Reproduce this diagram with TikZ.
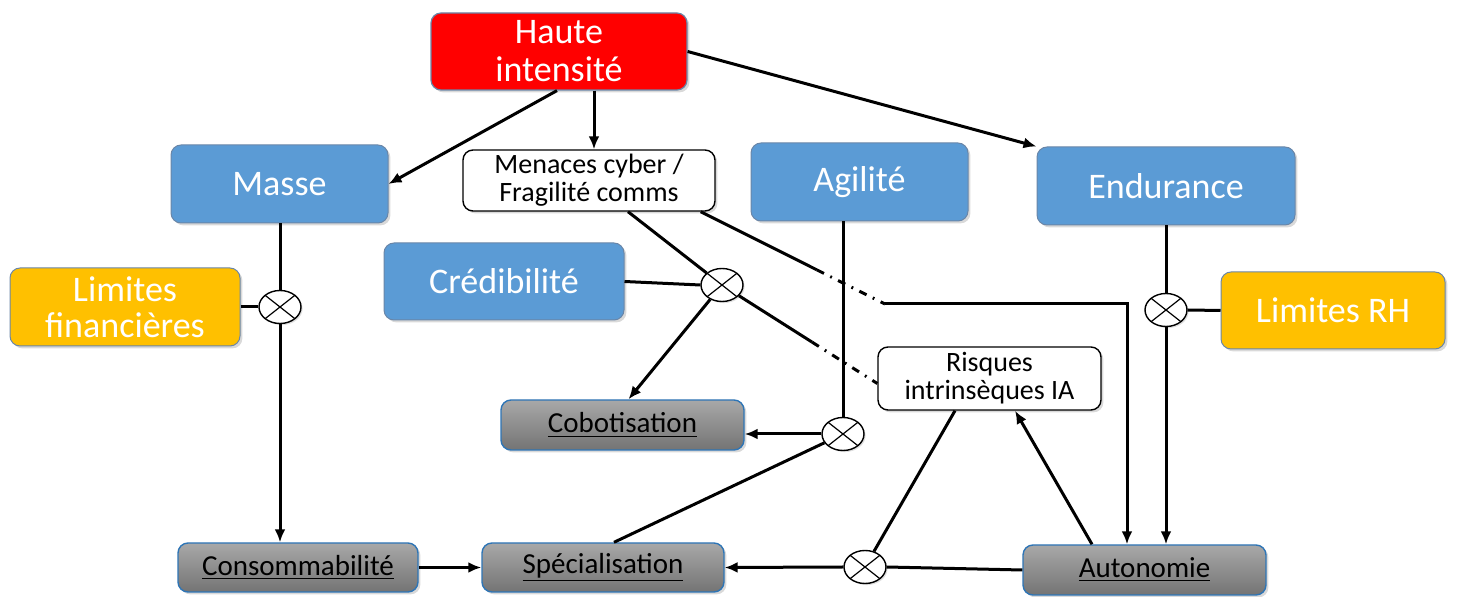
\documentclass[tikz,border=0pt]{standalone}
\usepackage{fontspec}
\setmainfont{Carlito}
\usetikzlibrary{shadows,arrows.meta,calc,shapes.geometric}
\definecolor{hired}{HTML}{FF0000}
\definecolor{boxblue}{HTML}{5B9BD5}
\definecolor{boxyellow}{HTML}{FFC000}
\definecolor{edgeblue}{HTML}{2E75B6}
\definecolor{softborder}{HTML}{6A86A8}
\definecolor{graytop}{HTML}{A8A8A8}
\definecolor{graybot}{HTML}{747474}
\tikzset{
  base/.style={rounded corners=5pt, align=center, inner sep=0pt,
    drop shadow={shadow xshift=1.2pt, shadow yshift=-1.2pt, opacity=0.3}},
  redbox/.style={base, fill=hired, draw=softborder, line width=0.6pt, text=white,
    font=\fontsize{18}{19}\selectfont},
  bluebox/.style={base, fill=boxblue, draw=softborder, line width=0.5pt, text=white,
    font=\fontsize{18}{19}\selectfont},
  yellowbox/.style={base, fill=boxyellow, draw=softborder, line width=0.5pt, text=white,
    font=\fontsize{18}{18}\selectfont},
  whitebox/.style={base, fill=white, draw=black, line width=0.7pt, text=black,
    font=\fontsize{14}{14}\selectfont},
  graybox/.style={base, top color=graytop, bottom color=graybot, draw=edgeblue,
    line width=0.7pt, text=black, font=\fontsize{14.5}{15}\selectfont},
  otimesnode/.style={ellipse, minimum width=21pt, minimum height=16.5pt, inner sep=0pt,
    draw=black, line width=0.7pt, fill=white,
    drop shadow={shadow xshift=0.8pt, shadow yshift=-0.8pt, opacity=0.25},
    path picture={\draw[line width=0.6pt] (path picture bounding box.north west) -- (path picture bounding box.south east)
      (path picture bounding box.north east) -- (path picture bounding box.south west);}},
  conn/.style={line width=1.5pt, draw=black},
  arr/.style={conn, -{Latex[length=6.5pt,width=5.5pt]}},
  dashdot/.style={conn, dash pattern=on 4pt off 3.5pt on 0.9pt off 3.5pt},
}
\begin{document}
\begin{tikzpicture}[x=0.5pt,y=-0.5pt]
\useasboundingbox (0,0) rectangle (1457,597);

% nodes
\node[redbox, minimum width=128pt, minimum height=38.5pt] (hi) at (559,51.5) {Haute\\intensité};
\node[bluebox, minimum width=108.5pt, minimum height=39pt] (masse) at (279.5,184) {Masse};
\node[whitebox, minimum width=126pt, minimum height=30.5pt] (menaces) at (589,180.5) {Menaces cyber /\\Fragilité comms};
\node[bluebox, minimum width=108.5pt, minimum height=39pt] (agil) at (859.5,182) {Agilité};
\node[bluebox, minimum width=129pt, minimum height=39pt] (endu) at (1166,186) {Endurance};
\node[bluebox, minimum width=120pt, minimum height=38.5pt] (cred) at (504,281.5) {Crédibilité};
\node[yellowbox, minimum width=115pt, minimum height=39pt] (limfin) at (125,307) {Limites\\financières};
\node[yellowbox, minimum width=112pt, minimum height=38.5pt] (limrh) at (1333,310.5) {Limites RH};
\node[whitebox, minimum width=111.5pt, minimum height=31.5pt] (risk) at (989.5,378.5) {Risques\\intrinsèques IA};
\node[graybox, minimum width=121.5pt, minimum height=25pt] (cobot) at (622.5,425) {\underline{Cobotisation}};
\node[graybox, minimum width=120pt, minimum height=24.5pt] (conso) at (298,567.5) {\underline{Consommabilité}};
\node[graybox, minimum width=121pt, minimum height=24.5pt] (spec) at (603,567.5) {\underline{Spécialisation}};
\node[graybox, minimum width=121.5pt, minimum height=25pt] (auto) at (1144.5,570) {\underline{Autonomie}};

% combination circles
\node[otimesnode] (c1) at (280,307) {};
\node[otimesnode] (c2) at (722,285) {};
\node[otimesnode] (c3) at (843,434) {};
\node[otimesnode] (c4) at (865,567) {};
\node[otimesnode] (c5) at (1166,310) {};

% helper coordinates
\coordinate (k1) at (885,304);
\coordinate (k2) at (1127,304);
\coordinate (mstart) at ([xshift=-7.5pt]menaces.south east);

% connectors from Haute intensite
\draw[arr] ([xshift=-1pt]hi.south) -- (masse.east);
\draw[arr] ([xshift=17.5pt]hi.south) -- ([xshift=17.5pt]hi.south |- menaces.north);
\draw[arr] (hi.east) -- (endu.north west);

% Masse chain
\draw[conn] (masse.south -| c1) -- (c1.north);
\draw[conn] (limfin.east) -- (c1.west);
\draw[arr] (c1.south) -- (c1.south |- conso.north);
\draw[arr] (conso.east) -- (spec.west);

% Menaces / Credibilite
\draw[conn] ([xshift=19.5pt]menaces.south) -- (c2);
\draw[conn] (cred.east) -- (c2.west);
\draw[arr] (c2) -- ([xshift=3pt]cobot.north);
\coordinate (riskin) at ([yshift=-2.5pt]risk.west);
\draw[conn] (c2) -- ($(c2)!0.58!(riskin)$);
\draw[dashdot] ($(c2)!0.58!(riskin)$) -- (riskin);

% Menaces -> Autonomie
\draw[conn] (mstart) -- ($(mstart)!0.63!(k1)$);
\draw[dashdot] ($(mstart)!0.63!(k1)$) -- (k1);
\draw[arr] (k1) -- (k2) -- (k2 |- auto.north);

% Agilite
\draw[conn] ([xshift=-8.25pt]agil.south) -- (c3.north);
\draw[arr] (c3.west) -- (c3.west -| cobot.east);
\draw[conn] (c3) -- ([xshift=5.5pt]spec.north);

% Risques / Autonomie
\draw[conn] ([xshift=-17.25pt]risk.south) -- (c4);
\draw[arr] ([xshift=-26.25pt]auto.north) -- ([xshift=12.75pt]risk.south);
\draw[conn] (auto.west) -- (c4.east);
\draw[arr] (c4.west) -- (spec.east);

% Endurance
\draw[conn] (endu.south) -- (c5.north);
\draw[conn] (limrh.west) -- (c5.east);
\draw[arr] (c5.south) -- (c5.south |- auto.north);
\end{tikzpicture}
\end{document}
